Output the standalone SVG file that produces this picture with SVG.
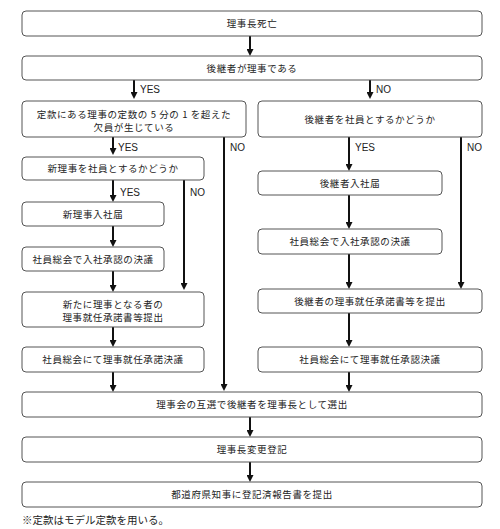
<svg xmlns="http://www.w3.org/2000/svg" width="500" height="529" viewBox="0 0 500 529">
<defs>
<marker id="ah" markerUnits="userSpaceOnUse" markerWidth="7" markerHeight="7" refX="3" refY="3.5" orient="auto">
<path d="M0,0 L7,3.5 L0,7 Z" fill="#111"/>
</marker>
<style>
.box{fill:#fff;stroke:#555;stroke-width:1}
.t{font-family:"Noto Sans CJK JP","Liberation Sans",sans-serif;font-size:9.5px;letter-spacing:0.6px;fill:#222;text-anchor:middle}
.lbl{font-family:"Liberation Sans",Arial,sans-serif;font-size:10px;fill:#222}
.c{stroke:#111;stroke-width:2;fill:none;marker-end:url(#ah)}
.note{font-family:"Liberation Serif","Noto Sans CJK JP",serif;font-size:10.5px;fill:#222}
</style>
</defs>
<rect width="500" height="529" fill="#fff"/>
<g id="connectors">
<path class="c" d="M250,36 V52"/>
<path class="c" d="M134,80 V95"/>
<path class="c" d="M370,80 V95"/>
<path class="c" d="M113,137 V151"/>
<path class="c" d="M224,137 V387"/>
<path class="c" d="M113,180 V198"/>
<path class="c" d="M184,180 V286"/>
<path class="c" d="M113,226 V243"/>
<path class="c" d="M113,271 V288"/>
<path class="c" d="M113,327 V343"/>
<path class="c" d="M113,372 V388"/>
<path class="c" d="M349,137 V167"/>
<path class="c" d="M461,137 V285"/>
<path class="c" d="M349,195 V225"/>
<path class="c" d="M349,254 V285"/>
<path class="c" d="M349,313 V343"/>
<path class="c" d="M349,372 V388"/>
<path class="c" d="M250,417 V433"/>
<path class="c" d="M250,462 V478"/>
<text class="lbl" x="140" y="93">YES</text>
<text class="lbl" x="376" y="93">NO</text>
<text class="lbl" x="118" y="151">YES</text>
<text class="lbl" x="230" y="151">NO</text>
<text class="lbl" x="355" y="151">YES</text>
<text class="lbl" x="467" y="151">NO</text>
<text class="lbl" x="120" y="196">YES</text>
<text class="lbl" x="190" y="196">NO</text>
</g>
<g id="n1"><rect class="box" x="22" y="11" width="460" height="25" rx="4"/><text class="t" x="252" y="27">理事長死亡</text></g>
<g id="n2"><rect class="box" x="22" y="56" width="460" height="24" rx="4"/><text class="t" x="252" y="71.5">後継者が理事である</text></g>
<g id="n3"><rect class="box" x="22" y="101" width="224" height="36" rx="4"/><text class="t" x="134" y="117.5">定款にある理事の定数の 5 分の 1 を超えた</text><text class="t" x="134" y="130.5">欠員が生じている</text></g>
<g id="n4"><rect class="box" x="258" y="101" width="224" height="36" rx="4"/><text class="t" x="370" y="122.5">後継者を社員とするかどうか</text></g>
<g id="n5"><rect class="box" x="22" y="157" width="182" height="23" rx="4"/><text class="t" x="113" y="172">新理事を社員とするかどうか</text></g>
<g id="n6"><rect class="box" x="22" y="202" width="142" height="24" rx="4"/><text class="t" x="93" y="217.5">新理事入社届</text></g>
<g id="n7"><rect class="box" x="22" y="247" width="142" height="24" rx="4"/><text class="t" x="93" y="262.5">社員総会で入社承認の決議</text></g>
<g id="n8"><rect class="box" x="22" y="292" width="182" height="35" rx="4"/><text class="t" x="113" y="308">新たに理事となる者の</text><text class="t" x="113" y="321">理事就任承諾書等提出</text></g>
<g id="n9"><rect class="box" x="22" y="347" width="182" height="25" rx="4"/><text class="t" x="113" y="363">社員総会にて理事就任承諾決議</text></g>
<g id="n10"><rect class="box" x="258" y="171" width="184" height="24" rx="4"/><text class="t" x="350" y="186.5">後継者入社届</text></g>
<g id="n11"><rect class="box" x="258" y="229" width="184" height="25" rx="4"/><text class="t" x="350" y="245">社員総会で入社承認の決議</text></g>
<g id="n12"><rect class="box" x="258" y="289" width="224" height="24" rx="4"/><text class="t" x="370" y="304.5">後継者の理事就任承諾書等を提出</text></g>
<g id="n13"><rect class="box" x="258" y="347" width="224" height="25" rx="4"/><text class="t" x="370" y="363">社員総会にて理事就任承認決議</text></g>
<g id="n14"><rect class="box" x="22" y="392" width="460" height="25" rx="4"/><text class="t" x="252" y="408">理事会の互選で後継者を理事長として選出</text></g>
<g id="n15"><rect class="box" x="22" y="437" width="460" height="25" rx="4"/><text class="t" x="252" y="453">理事長変更登記</text></g>
<g id="n16"><rect class="box" x="22" y="482" width="460" height="25" rx="4"/><text class="t" x="252" y="498">都道府県知事に登記済報告書を提出</text></g>
<text class="note" x="22" y="524">※定款はモデル定款を用いる。</text>
</svg>
